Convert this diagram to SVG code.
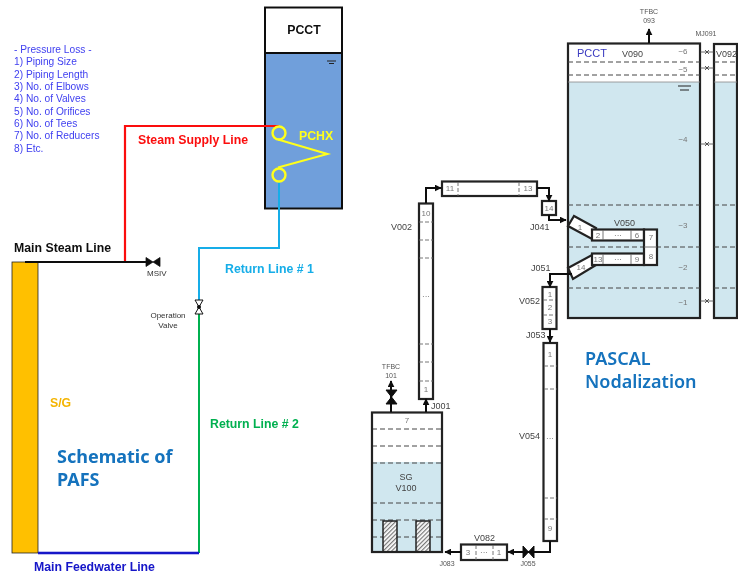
<svg xmlns="http://www.w3.org/2000/svg" width="738" height="576" viewBox="0 0 738 576">
<defs>
<marker id="ah" viewBox="0 0 10 10" refX="9" refY="5" markerWidth="7" markerHeight="7" markerUnits="userSpaceOnUse" orient="auto"><path d="M0 0L10 5L0 10Z" fill="#111"/></marker>
<pattern id="hatch" width="3" height="3" patternUnits="userSpaceOnUse" patternTransform="rotate(-45)"><rect width="3" height="3" fill="#fff"/><rect width="3" height="1.200" fill="#777"/></pattern>
<filter id="soft" x="-2%" y="-2%" width="104%" height="104%"><feGaussianBlur stdDeviation="0.5"/></filter>
<filter id="soft2" x="-2%" y="-2%" width="104%" height="104%"><feGaussianBlur stdDeviation="0.3"/></filter>
</defs>
<style>
text{font-family:"Liberation Sans",Arial,sans-serif}
.loss{font-size:10.2px;fill:#3f3ff0}
.b{font-weight:bold;font-size:12.300px}
.k{fill:none;stroke:#111;stroke-width:2}
.t{fill:none;stroke:#222;stroke-width:2.200}
.w{fill:#fff;stroke:#222;stroke-width:2.200}
.d{stroke:#444;stroke-width:1;stroke-dasharray:5 3;fill:none}
.p{stroke:#666;stroke-width:.9;stroke-dasharray:4 2;fill:none}
.g{font-size:7px;fill:#555;text-anchor:middle}
.n{font-size:8px;fill:#777;text-anchor:middle}
.l{font-size:9px;fill:#444}
.big{font-family:"Noto Sans","Open Sans",sans-serif;font-weight:bold;font-size:18px;fill:#1272bd}
.big2{font-family:"Noto Sans","Open Sans",sans-serif;font-size:18px;font-weight:600;fill:#1272bd}
.water{fill:#d0e7ef}
</style>
<rect width="738" height="576" fill="#fff"/>

<g id="pressure-loss" filter="url(#soft2)">
<text class="loss" x="14" y="52.500">- Pressure Loss -</text>
<text class="loss" x="14" y="65">1) Piping Size</text>
<text class="loss" x="14" y="78">2) Piping Length</text>
<text class="loss" x="14" y="90">3) No. of Elbows</text>
<text class="loss" x="14" y="102">4) No. of Valves</text>
<text class="loss" x="14" y="114.500">5) No. of Orifices</text>
<text class="loss" x="14" y="127">6) No. of Tees</text>
<text class="loss" x="14" y="139">7) No. of Reducers</text>
<text class="loss" x="14" y="152">8) Etc.</text>
</g>

<g id="pcct-schematic" filter="url(#soft2)">
<rect x="265" y="7.500" width="77" height="45.500" fill="#fff" stroke="#111" stroke-width="2"/>
<rect x="265" y="53" width="77" height="155.500" fill="#6f9fdb" stroke="#111" stroke-width="2"/>
<text class="b" x="304" y="34" text-anchor="middle" fill="#111">PCCT</text>
<path d="M327 61H336M329 63.500H334" stroke="#222" stroke-width="1.100"/>
</g>
<g id="sg-schematic" filter="url(#soft2)">
<rect x="12" y="262" width="26" height="291" fill="#ffc000" stroke="#222" stroke-width=".8"/>
<text class="b" x="50" y="407" fill="#f4b400">S/G</text>
</g>
<g id="connectors-schematic" filter="url(#soft2)" fill="none">
<path d="M279 181V248H199V301" stroke="#14ade8" stroke-width="2"/>
<path d="M199 313V553" stroke="#00b050" stroke-width="2"/>
<path d="M125 262V126H279" stroke="#fb0d0d" stroke-width="2.200"/>
<path d="M25 262H147" stroke="#111" stroke-width="2"/>
<path d="M38 553H199" stroke="#1414c8" stroke-width="2.400"/>
</g>
<g id="pchx" filter="url(#soft2)">
<path d="M278 139.500L327.500 154L278 167.500" fill="none" stroke="#ffff1a" stroke-width="2"/>
<circle cx="279" cy="133" r="6.500" fill="none" stroke="#ffff1a" stroke-width="2.400"/>
<circle cx="279" cy="175" r="6.500" fill="none" stroke="#ffff1a" stroke-width="2.400"/>
<text class="b" x="299" y="140" fill="#ffff1a">PCHX</text>
</g>
<g id="msiv" filter="url(#soft2)">
<path d="M146 257.500V266.500L153 262L160 257.500V266.500L153 262Z" fill="#111" stroke="#111" stroke-width=".8"/>
<text x="147" y="276" font-size="8" fill="#333">MSIV</text>
</g>
<g id="operation-valve" filter="url(#soft2)">
<path d="M195 300H203L195 314H203Z" fill="#fff" stroke="#111" stroke-width="1"/>
<circle cx="199" cy="307" r="2" fill="#111"/>
<text x="168" y="318" font-size="8" fill="#333" text-anchor="middle">Operation</text>
<text x="168" y="328" font-size="8" fill="#333" text-anchor="middle">Valve</text>
</g>
<g id="schematic-labels" filter="url(#soft2)">
<text class="b" x="14" y="252" fill="#111">Main Steam Line</text>
<text class="b" x="138" y="144" fill="#fb0d0d">Steam Supply Line</text>
<text class="b" x="225" y="273" fill="#14ade8">Return Line # 1</text>
<text class="b" x="210" y="428" fill="#00b050">Return Line # 2</text>
<text class="b" x="34" y="571" fill="#1414c8">Main Feedwater Line</text>
<text class="big" x="57" y="463">Schematic  of</text>
<text class="big" x="57" y="486">PAFS</text>
<text class="big2" x="585" y="365">PASCAL</text>
<text class="big2" x="585" y="388">Nodalization</text>
</g>

<g filter="url(#soft)">
<g id="v090">
<rect x="568" y="43.500" width="132" height="274.500" fill="#fff"/>
<rect class="water" x="568" y="82" width="132" height="236"/>
<rect class="t" x="568" y="43.500" width="132" height="274.500"/>
<path class="d" d="M568 62H700M568 75H700M568 205H700M568 247H700M568 288H700"/>
<path d="M568 82H700" stroke="#888" stroke-width=".8"/>
<path d="M678 86H691M680 90H689" stroke="#222" stroke-width="1.200"/>
<text x="577" y="57" font-size="11" fill="#3a3ac0">PCCT</text>
<text x="622" y="57" font-size="9" fill="#444">V090</text>
<text class="n" x="683" y="54">−6</text><text class="n" x="683" y="72">−5</text><text class="n" x="683" y="142">−4</text>
<text class="n" x="683" y="228">−3</text><text class="n" x="683" y="270">−2</text><text class="n" x="683" y="305">−1</text>
<text class="g" x="649" y="14">TFBC</text><text class="g" x="649" y="23">093</text>
<text class="g" x="706" y="36">MJ091</text>
</g>
<g id="v092">
<rect class="water" x="714" y="82" width="23" height="236"/>
<rect class="t" x="714" y="44" width="23" height="274"/>
<path class="d" d="M714 62H737M714 75H737M714 205H737M714 247H737M714 288H737"/>
<path d="M714 82H737" stroke="#888" stroke-width=".8"/>
<text x="716" y="57" font-size="9" fill="#444">V092</text>
</g>
<g id="v050">
<path class="w" d="M574 216L596 228L592 239L568 226Z"/>
<path class="w" d="M592 255L596 265L573 279L568 268Z"/>
<rect class="w" x="592" y="229.500" width="52" height="11"/>
<rect class="w" x="592" y="253.500" width="52" height="11.500"/>
<rect class="w" x="644" y="229.500" width="13" height="35.500"/>
<path d="M644 247H657M603 230V240M631 230V240M603 254V264M631 254V264" stroke="#666" stroke-width=".9"/>
<text class="n" x="580" y="230">1</text><text class="n" x="598" y="238">2</text><text class="n" x="618" y="238">···</text><text class="n" x="637" y="238">6</text><text class="n" x="651" y="240">7</text>
<text class="n" x="651" y="259">8</text><text class="n" x="598" y="262">13</text><text class="n" x="618" y="262">···</text><text class="n" x="637" y="262">9</text><text class="n" x="581" y="270">14</text>
<text x="614" y="226" font-size="9" fill="#444">V050</text>
</g>
<g id="v002">
<rect class="w" x="419" y="203.500" width="14" height="195.500"/>
<path class="p" d="M419 222H433M419 240H433M419 258H433M419 344H433M419 362H433M419 381H433"/>
<text class="n" x="426" y="216">10</text><text class="n" x="426" y="299">···</text><text class="n" x="426" y="392">1</text>
<text class="l" x="391" y="230">V002</text>
</g>
<g id="v-top">
<rect class="w" x="442" y="181.500" width="95" height="14.500"/>
<path class="p" d="M458 182V196M519 182V196"/>
<text class="n" x="450" y="191">11</text><text class="n" x="528" y="191">13</text>
<rect class="w" x="542" y="201" width="14" height="14"/>
<text class="n" x="549" y="211">14</text>
<text class="l" x="530" y="230">J041</text>
<text class="l" x="531" y="271">J051</text>
</g>
<g id="v052">
<rect class="w" x="542.500" y="287" width="14" height="42"/>
<path class="p" d="M543 300H556M543 315H556"/>
<text class="n" x="550" y="297">1</text><text class="n" x="550" y="310">2</text><text class="n" x="550" y="324">3</text>
<text class="l" x="519" y="304">V052</text>
<text class="l" x="526" y="338">J053</text>
</g>
<g id="v054">
<rect class="w" x="543.500" y="343" width="13.500" height="198"/>
<path class="p" d="M544 366H557M544 389H557M544 498H557M544 519H557"/>
<text class="n" x="550" y="357">1</text><text class="n" x="550" y="441">···</text><text class="n" x="550" y="531">9</text>
<text class="l" x="519" y="439">V054</text>
</g>
<g id="sg-v100">
<rect x="372" y="412.500" width="70" height="139.500" fill="#fff"/>
<rect class="water" x="372" y="462" width="70" height="90"/>
<path class="d" d="M372 429H442M372 446H442M372 463H442M372 503H442M372 520H442M372 537H442"/>
<rect x="383" y="521" width="14" height="31" fill="url(#hatch)" stroke="#222" stroke-width="1.500"/>
<rect x="416" y="521" width="14" height="31" fill="url(#hatch)" stroke="#222" stroke-width="1.500"/>
<rect class="t" x="372" y="412.500" width="70" height="139.500"/>
<text class="n" x="407" y="423">7</text>
<text x="406" y="480" font-size="9" fill="#444" text-anchor="middle">SG</text>
<text x="406" y="491" font-size="9" fill="#444" text-anchor="middle">V100</text>
<text class="g" x="391" y="369">TFBC</text><text class="g" x="391" y="378">101</text>
<text class="l" x="431" y="409">J001</text>
<path d="M386 390H397L386 404H397Z" fill="#111" stroke="#111"/>
</g>
<g id="v082">
<rect class="w" x="461" y="544.500" width="46" height="15.500"/>
<path class="p" d="M476 545V560M493 545V560"/>
<text class="n" x="468" y="555">3</text><text class="n" x="484" y="555">···</text><text class="n" x="499" y="555">1</text>
<text class="l" x="474" y="541">V082</text>
<text class="g" x="447" y="566" font-size="8">J083</text>
<text class="g" x="528" y="566" font-size="8">J055</text>
<path d="M523 546V558L534 546V558Z" fill="#111" stroke="#111"/>
</g>
<g id="connectors">
<path class="k" d="M426 203V188H441" marker-end="url(#ah)"/>
<path class="k" d="M537 188H549V201" marker-end="url(#ah)"/>
<path class="k" d="M549 215V220H566" marker-end="url(#ah)"/>
<path class="k" d="M572 274H550V287" marker-end="url(#ah)"/>
<path class="k" d="M550 329V342" marker-end="url(#ah)"/>
<path class="k" d="M550 541V552H508" marker-end="url(#ah)"/>
<path class="k" d="M461 552H445" marker-end="url(#ah)"/>
<path class="k" d="M426 412V399" marker-end="url(#ah)"/>
<path class="k" d="M391 412V381" marker-end="url(#ah)"/>
<path class="k" d="M649 43V29" marker-end="url(#ah)"/>
<path d="M700 52H714M700 68H714M700 144H714M700 301H714" stroke="#444" stroke-width=".8" fill="none"/>
<path d="M705 50L709 54M709 50L705 54M705 66L709 70M709 66L705 70M705 142L709 146M709 142L705 146M705 299L709 303M709 299L705 303" stroke="#333" stroke-width=".8"/>
</g>
</g>
</svg>
